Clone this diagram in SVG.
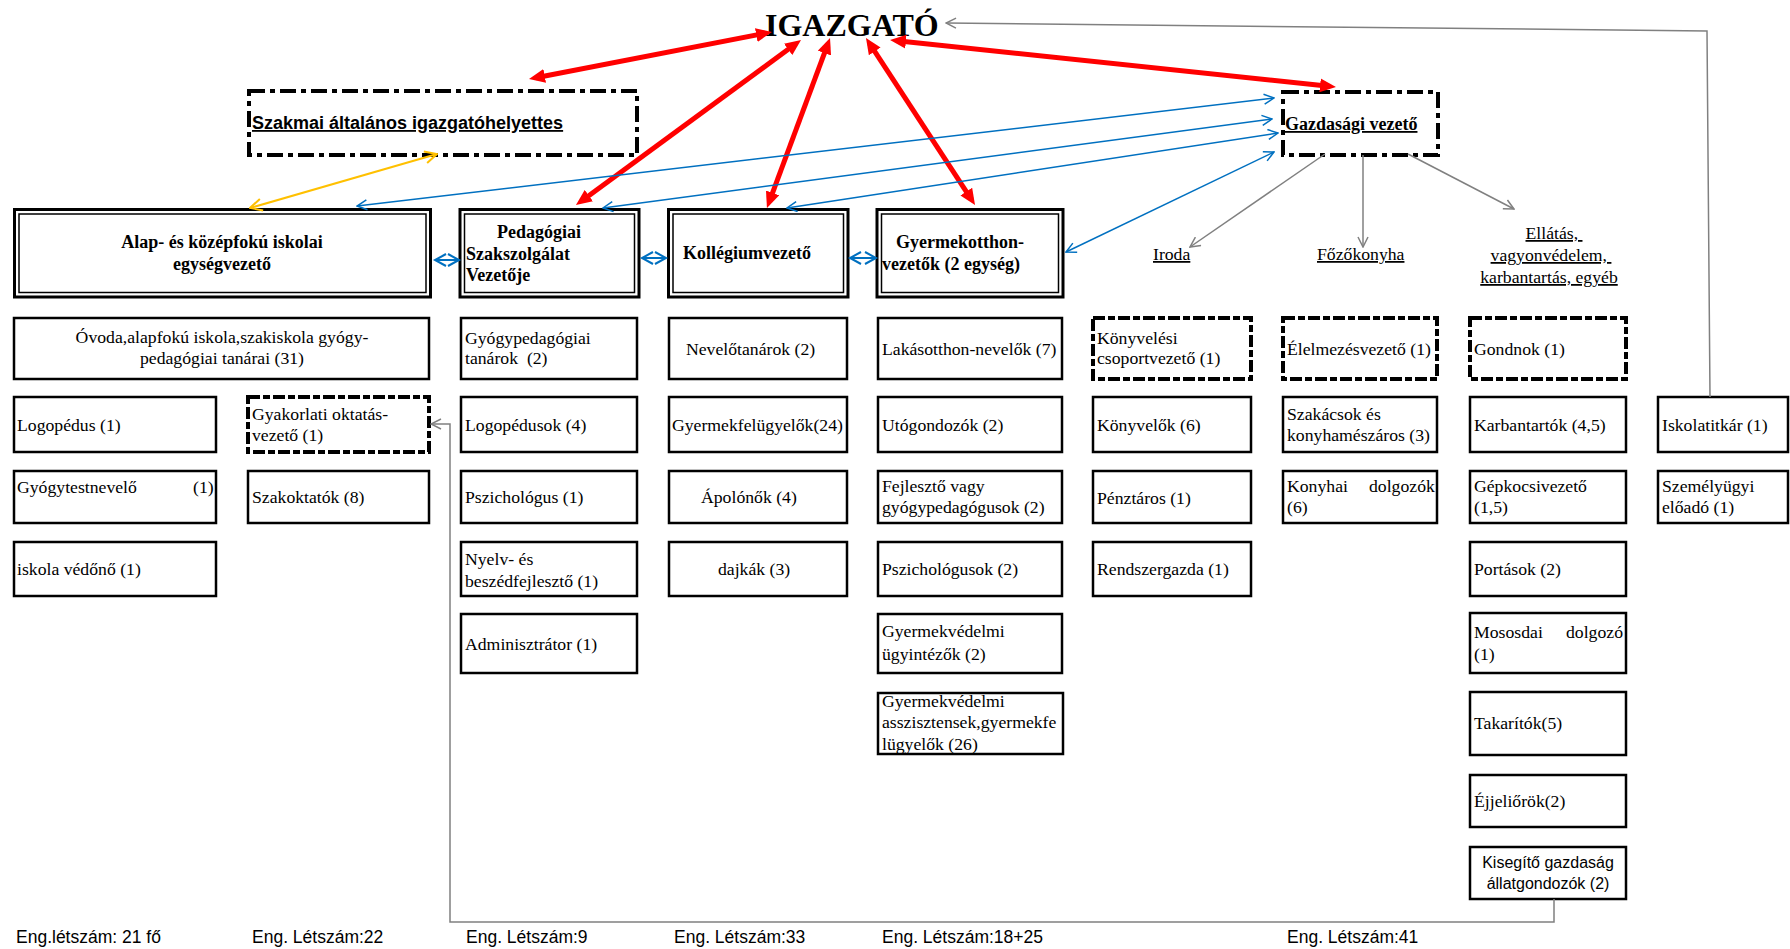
<svg xmlns="http://www.w3.org/2000/svg" width="1790" height="949" viewBox="0 0 1790 949">
<style>
.t{font-family:"Liberation Serif","Times New Roman",serif;font-size:17.7px;fill:#000;white-space:pre}
.tb{font-family:"Liberation Serif","Times New Roman",serif;font-size:18px;font-weight:bold;fill:#000}
.s{font-family:"Liberation Sans",Arial,sans-serif;fill:#000}
.u{text-decoration:underline}
.box{fill:#fff;stroke:#000;stroke-width:2.5}
.dbo{fill:#fff;stroke:#000;stroke-width:3}
.dbi{fill:none;stroke:#000;stroke-width:1.5}
.dd{fill:#fff;stroke:#000;stroke-width:4;stroke-dasharray:12 3 7 3}
.dm{fill:#fff;stroke:#000;stroke-width:4;stroke-dasharray:16 5 5 5}
.red{stroke:#f00;stroke-width:5;fill:none;marker-start:url(#rh);marker-end:url(#rh)}
.blue{stroke:#0070c0;stroke-width:1.5;fill:none;marker-start:url(#bh);marker-end:url(#bh)}
.yel{stroke:#ffc000;stroke-width:2;fill:none;marker-start:url(#yh);marker-end:url(#yh)}
.gray{stroke:#808080;stroke-width:1.5;fill:none;marker-end:url(#gh)}
.dia{stroke:#0070c0;stroke-width:2;fill:none}
</style>
<defs>
<marker id="rh" viewBox="0 0 16 14" refX="9" refY="7" markerWidth="16" markerHeight="14" markerUnits="userSpaceOnUse" orient="auto-start-reverse"><path d="M0,0 L16,7 L0,14 z" fill="#f00"/></marker>
<marker id="bh" viewBox="0 0 12 12" refX="11" refY="6" markerWidth="12" markerHeight="12" markerUnits="userSpaceOnUse" orient="auto-start-reverse"><path d="M1,1 L11,6 L1,11" fill="none" stroke="#0070c0" stroke-width="1.5"/></marker>
<marker id="yh" viewBox="0 0 14 14" refX="13" refY="7" markerWidth="14" markerHeight="14" markerUnits="userSpaceOnUse" orient="auto-start-reverse"><path d="M1,1 L13,7 L1,13" fill="none" stroke="#ffc000" stroke-width="2"/></marker>
<marker id="gh" viewBox="0 0 12 12" refX="11" refY="6" markerWidth="12" markerHeight="12" markerUnits="userSpaceOnUse" orient="auto"><path d="M1,1 L11,6 L1,11" fill="none" stroke="#808080" stroke-width="1.5"/></marker>
<clipPath id="clipGyv"><rect x="878" y="693" width="185" height="61"/></clipPath>
</defs>
<rect x="0" y="0" width="1790" height="949" fill="#fff"/>

<g id="igazgato"><text class="tb" x="765" y="36" style="font-size:32px">IGAZGATÓ</text></g>

<g id="szakmai"><rect class="dm" x="249" y="91" width="388" height="64"/><text class="s u" x="252" y="129" style="font-size:18px;font-weight:bold">Szakmai általános igazgatóhelyettes</text></g>
<g id="gazdasagi"><rect class="dm" x="1283" y="92" width="155" height="63"/><text class="tb u" x="1285" y="130">Gazdasági vezető</text></g>

<g id="alap"><rect class="dbo" x="14.5" y="209.5" width="416" height="87.5"/><rect class="dbi" x="19" y="214" width="407" height="78.5"/><text class="tb" text-anchor="middle"><tspan x="222" y="248">Alap- és középfokú iskolai</tspan><tspan x="222" y="270">egységvezető</tspan></text></g>
<g id="pedagogiai"><rect class="dbo" x="460" y="209.5" width="179" height="87.5"/><rect class="dbi" x="464.5" y="214" width="170" height="78.5"/><text class="tb"><tspan x="497" y="238">Pedagógiai</tspan><tspan x="466" y="260">Szakszolgálat</tspan><tspan x="466" y="281">Vezetője</tspan></text></g>
<g id="kollegium"><rect class="dbo" x="668.5" y="209.5" width="179.5" height="87.5"/><rect class="dbi" x="673" y="214" width="170.5" height="78.5"/><text class="tb" x="683" y="259">Kollégiumvezető</text></g>
<g id="gyermekotthon"><rect class="dbo" x="877" y="209.5" width="186" height="87.5"/><rect class="dbi" x="881.5" y="214" width="177" height="78.5"/><text class="tb"><tspan x="896" y="248">Gyermekotthon-</tspan><tspan x="882" y="270">vezetők (2 egység)</tspan></text></g>

<g id="iroda"><text class="t u" x="1153" y="260">Iroda</text></g>
<g id="fozokonyha"><text class="t u" x="1317" y="260">Főzőkonyha</text></g>
<g id="ellatas"><text class="t u" text-anchor="middle"><tspan x="1554" y="239">Ellátás, </tspan><tspan x="1551" y="261">vagyonvédelem, </tspan><tspan x="1549" y="283">karbantartás, egyéb</tspan></text></g>

<!-- column 1 -->
<g id="ovoda"><rect class="box" x="14" y="318" width="415" height="61"/><text class="t" text-anchor="middle"><tspan x="222" y="343">Óvoda,alapfokú iskola,szakiskola gyógy-</tspan><tspan x="222" y="364">pedagógiai tanárai (31)</tspan></text></g>
<g id="logopedus"><rect class="box" x="14" y="397" width="202" height="55"/><text class="t" x="17" y="431">Logopédus (1)</text></g>
<g id="gyakorlati"><rect class="dd" x="248" y="397" width="181" height="55"/><text class="t"><tspan x="252" y="420">Gyakorlati oktatás-</tspan><tspan x="252" y="441">vezető (1)</tspan></text></g>
<g id="gyogytest"><rect class="box" x="14" y="471" width="202" height="52"/><text class="t" y="493"><tspan x="17">Gyógytestnevelő</tspan><tspan x="193">(1)</tspan></text></g>
<g id="szakoktatok"><rect class="box" x="248" y="471" width="181" height="52"/><text class="t" x="252" y="503">Szakoktatók (8)</text></g>
<g id="vedono"><rect class="box" x="14" y="542" width="202" height="54"/><text class="t" x="17" y="575">iskola védőnő (1)</text></g>

<!-- column 2 -->
<g id="gyogyped"><rect class="box" x="461" y="318" width="176" height="61"/><text class="t"><tspan x="465" y="344">Gyógypedagógiai</tspan><tspan x="465" y="364">tanárok  (2)</tspan></text></g>
<g id="logopedusok"><rect class="box" x="461" y="397" width="176" height="55"/><text class="t" x="465" y="431">Logopédusok (4)</text></g>
<g id="pszichologus"><rect class="box" x="461" y="471" width="176" height="52"/><text class="t" x="465" y="503">Pszichológus (1)</text></g>
<g id="nyelv"><rect class="box" x="461" y="542" width="176" height="54"/><text class="t"><tspan x="465" y="565">Nyelv- és</tspan><tspan x="465" y="587">beszédfejlesztő (1)</tspan></text></g>
<g id="adminisztrator"><rect class="box" x="461" y="614" width="176" height="59"/><text class="t" x="465" y="650">Adminisztrátor (1)</text></g>

<!-- column 3 -->
<g id="nevelotanarok"><rect class="box" x="669" y="318" width="178" height="61"/><text class="t" x="686" y="355">Nevelőtanárok (2)</text></g>
<g id="gyermekfel"><rect class="box" x="669" y="397" width="178" height="55"/><text class="t" x="672" y="431">Gyermekfelügyelők(24)</text></g>
<g id="apolonok"><rect class="box" x="669" y="471" width="178" height="52"/><text class="t" x="701" y="503">Ápolónők (4)</text></g>
<g id="dajkak"><rect class="box" x="669" y="542" width="178" height="54"/><text class="t" x="718" y="575">dajkák (3)</text></g>

<!-- column 4 -->
<g id="lakasotthon"><rect class="box" x="878" y="318" width="184" height="61"/><text class="t" x="882" y="355">Lakásotthon-nevelők (7)</text></g>
<g id="utogondozok"><rect class="box" x="878" y="397" width="184" height="55"/><text class="t" x="882" y="431">Utógondozók (2)</text></g>
<g id="fejleszto"><rect class="box" x="878" y="471" width="184" height="52"/><text class="t"><tspan x="882" y="492">Fejlesztő vagy</tspan><tspan x="882" y="513">gyógypedagógusok (2)</tspan></text></g>
<g id="pszichologusok"><rect class="box" x="878" y="542" width="184" height="54"/><text class="t" x="882" y="575">Pszichológusok (2)</text></g>
<g id="gyv-ugyintezok"><rect class="box" x="878" y="614" width="184" height="59"/><text class="t"><tspan x="882" y="637">Gyermekvédelmi</tspan><tspan x="882" y="660">ügyintézők (2)</tspan></text></g>
<g id="gyv-asszisztensek"><rect x="878" y="693" width="185" height="61" fill="#fff"/><text class="t" clip-path="url(#clipGyv)"><tspan x="882" y="707">Gyermekvédelmi</tspan><tspan x="882" y="728">asszisztensek,gyermekfe</tspan><tspan x="882" y="750">lügyelők (26)</tspan></text><rect x="878" y="693" width="185" height="61" fill="none" stroke="#000" stroke-width="2.5"/></g>

<!-- column 5 -->
<g id="konyvelesi"><rect class="dd" x="1093" y="318" width="158" height="61"/><text class="t"><tspan x="1097" y="344">Könyvelési</tspan><tspan x="1097" y="364">csoportvezető (1)</tspan></text></g>
<g id="konyvelok"><rect class="box" x="1093" y="397" width="158" height="55"/><text class="t" x="1097" y="431">Könyvelők (6)</text></g>
<g id="penztaros"><rect class="box" x="1093" y="471" width="158" height="52"/><text class="t" x="1097" y="504">Pénztáros (1)</text></g>
<g id="rendszergazda"><rect class="box" x="1093" y="542" width="158" height="54"/><text class="t" x="1097" y="575">Rendszergazda (1)</text></g>

<!-- column 6 -->
<g id="elelmezes"><rect class="dd" x="1283" y="318" width="154" height="61"/><text class="t" x="1287" y="355">Élelmezésvezető (1)</text></g>
<g id="szakacsok"><rect class="box" x="1283" y="397" width="154" height="55"/><text class="t"><tspan x="1287" y="420">Szakácsok és</tspan><tspan x="1287" y="441">konyhamészáros (3)</tspan></text></g>
<g id="konyhai"><rect class="box" x="1283" y="471" width="154" height="52"/><text class="t"><tspan x="1287" y="492">Konyhai</tspan><tspan x="1369" y="492">dolgozók</tspan><tspan x="1287" y="513">(6)</tspan></text></g>

<!-- column 7 -->
<g id="gondnok"><rect class="dd" x="1470" y="318" width="156" height="61"/><text class="t" x="1474" y="355">Gondnok (1)</text></g>
<g id="karbantartok"><rect class="box" x="1470" y="397" width="156" height="55"/><text class="t" x="1474" y="431">Karbantartók (4,5)</text></g>
<g id="gepkocsi"><rect class="box" x="1470" y="471" width="156" height="52"/><text class="t"><tspan x="1474" y="492">Gépkocsivezető</tspan><tspan x="1474" y="513">(1,5)</tspan></text></g>
<g id="portasok"><rect class="box" x="1470" y="542" width="156" height="54"/><text class="t" x="1474" y="575">Portások (2)</text></g>
<g id="mososdai"><rect class="box" x="1470" y="613" width="156" height="60"/><text class="t"><tspan x="1474" y="638">Mososdai</tspan><tspan x="1566" y="638">dolgozó</tspan><tspan x="1474" y="660">(1)</tspan></text></g>
<g id="takaritok"><rect class="box" x="1470" y="692" width="156" height="63"/><text class="t" x="1474" y="729">Takarítók(5)</text></g>
<g id="ejjeliorok"><rect class="box" x="1470" y="775" width="156" height="52"/><text class="t" x="1474" y="807">Éjjeliőrök(2)</text></g>
<g id="kisegito"><rect class="box" x="1470" y="847" width="156" height="52"/><text class="s" text-anchor="middle" style="font-size:16px"><tspan x="1548" y="868">Kisegítő gazdaság</tspan><tspan x="1548" y="889">állatgondozók (2)</tspan></text></g>

<!-- column 8 -->
<g id="iskolatitkar"><rect class="box" x="1658" y="397" width="130" height="55"/><text class="t" x="1662" y="431">Iskolatitkár (1)</text></g>
<g id="szemelyugyi"><rect class="box" x="1658" y="471" width="130" height="52"/><text class="t"><tspan x="1662" y="492">Személyügyi</tspan><tspan x="1662" y="513">előadó (1)</tspan></text></g>

<g id="connectors">
<line class="red" x1="765.1" y1="33.3" x2="535.9" y2="77.7"/>
<line class="red" x1="795.4" y1="44.1" x2="581.6" y2="200.9"/>
<line class="red" x1="827.6" y1="44.6" x2="769.4" y2="201.4"/>
<line class="red" x1="869.8" y1="43.9" x2="971.2" y2="199.1"/>
<line class="red" x1="897" y1="40.7" x2="1329" y2="86.3"/>
<line class="blue" x1="357" y1="206" x2="1274" y2="98"/>
<line class="blue" x1="603" y1="208" x2="1272" y2="119"/>
<line class="blue" x1="787" y1="208" x2="1278" y2="133"/>
<line class="blue" x1="1066" y1="252" x2="1274" y2="152"/>
<line class="yel" x1="250" y1="208" x2="437" y2="154"/>
<line class="gray" x1="1325" y1="154" x2="1190" y2="247"/>
<line class="gray" x1="1363" y1="155" x2="1363" y2="247"/>
<line class="gray" x1="1408" y1="154" x2="1514" y2="209"/>
<polyline class="gray" points="1710,397 1707,31 946,23"/>
<polyline class="gray" points="1554,899 1554,922 450,922 450,424 431,424"/>
<path class="dia" d="M435,260 H459 M446,254 L435,260 L446,266 M448,254 L459,260 L448,266"/>
<path class="dia" d="M642,258 H666 M653,252 L642,258 L653,264 M655,252 L666,258 L655,264"/>
<path class="dia" d="M850,258 H876 M861,252 L850,258 L861,264 M865,252 L876,258 L865,264"/>
</g>

<g id="footer" class="s" style="font-size:17.5px">
<text x="16" y="943">Eng.létszám: 21 fő</text>
<text x="252" y="943">Eng. Létszám:22</text>
<text x="466" y="943">Eng. Létszám:9</text>
<text x="674" y="943">Eng. Létszám:33</text>
<text x="882" y="943">Eng. Létszám:18+25</text>
<text x="1287" y="943">Eng. Létszám:41</text>
</g>
</svg>
